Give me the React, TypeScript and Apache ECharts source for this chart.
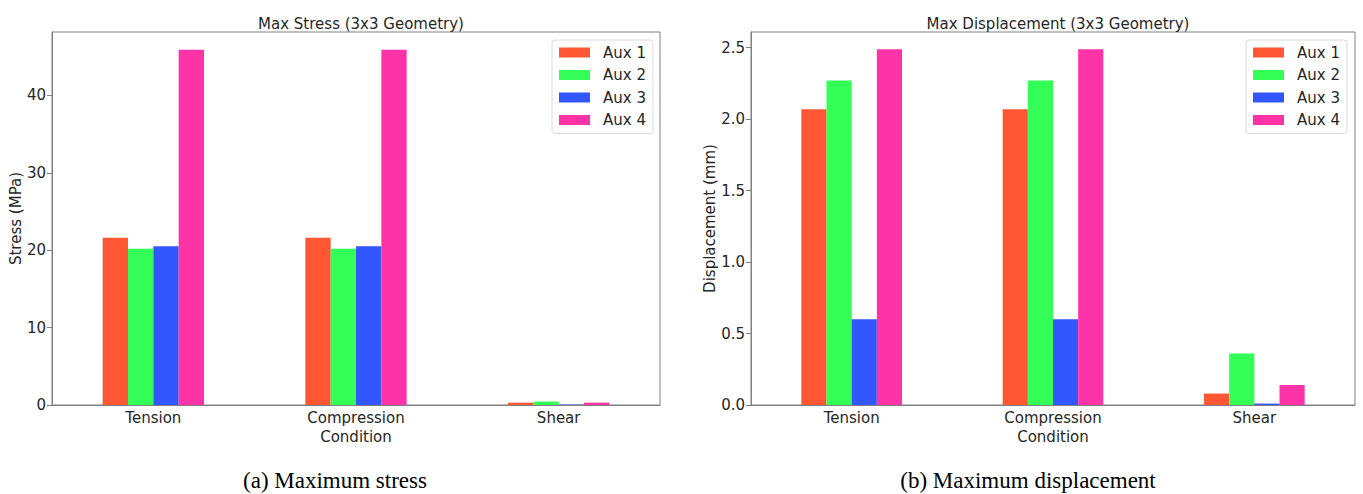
import React, { useEffect, useRef } from "react";
import * as echarts from "echarts";

const categories = ["Tension", "Compression\nCondition", "Shear"];
const seriesNames = ["Aux 1", "Aux 2", "Aux 3", "Aux 4"];
const colors = ["#FF5733", "#33FF57", "#3357FF", "#FF33A8"];
const stressValues = [
  [21.6, 21.6, 0.3],
  [20.2, 20.2, 0.45],
  [20.5, 20.5, 0.05],
  [45.9, 45.9, 0.3],
];
const displacementValues = [
  [2.07, 2.07, 0.08],
  [2.27, 2.27, 0.36],
  [0.6, 0.6, 0.01],
  [2.49, 2.49, 0.14],
];
const titles = ["Max Stress (3x3 Geometry)", "Max Displacement (3x3 Geometry)"];
const yNames = ["Stress (MPa)", "Displacement (mm)"];
const captions = ["(a) Maximum stress", "(b) Maximum displacement"];

const FONT = "DejaVu Sans";
const TXT = "#262626";
const AX = "#808080";

export default function App() {
  const ref = useRef<HTMLDivElement>(null);
  useEffect(() => {
    document.body.style.margin = "0";
    const chart = echarts.init(ref.current!, null, { renderer: "svg" });
    const grids = [
      { left: 52, top: 32, width: 608, height: 373 },
      { left: 751, top: 32, width: 604, height: 373 },
    ];
    const xAxis = grids.map((_, i) => ({
      type: "category",
      gridIndex: i,
      data: categories,
      axisLine: { lineStyle: { color: AX } },
      axisTick: { alignWithLabel: true, length: 5, lineStyle: { color: AX } },
      axisLabel: {
        color: TXT,
        fontFamily: FONT,
        fontSize: 15,
        lineHeight: 19,
        margin: 3,
      },
    }));
    const yAxis = [
      {
        type: "value",
        gridIndex: 0,
        min: 0,
        max: 48.2,
        interval: 10,
        name: yNames[0],
        nameLocation: "middle",
        nameGap: 27,
        nameTextStyle: { color: TXT, fontFamily: FONT, fontSize: 15 },
        axisLine: { show: true, lineStyle: { color: AX } },
        axisTick: { show: true, length: 5, lineStyle: { color: AX } },
        splitLine: { show: false },
        axisLabel: {
          color: TXT,
          fontFamily: FONT,
          fontSize: 15,
          margin: 6,
          showMaxLabel: false,
          formatter: (v: number) => (v % 10 === 0 ? String(v) : ""),
        },
      },
      {
        type: "value",
        gridIndex: 1,
        min: 0,
        max: 2.61,
        interval: 0.5,
        name: yNames[1],
        nameLocation: "middle",
        nameGap: 34,
        nameTextStyle: { color: TXT, fontFamily: FONT, fontSize: 15 },
        axisLine: { show: true, lineStyle: { color: AX } },
        axisTick: { show: true, length: 5, lineStyle: { color: AX } },
        splitLine: { show: false },
        axisLabel: {
          color: TXT,
          fontFamily: FONT,
          fontSize: 15,
          margin: 6,
          showMaxLabel: false,
          formatter: (v: number) =>
            Math.abs((v * 2) % 1) < 1e-9 ? v.toFixed(1) : "",
        },
      },
    ];
    const series: any[] = [];
    [stressValues, displacementValues].forEach((vals, gi) => {
      vals.forEach((row, si) => {
        series.push({
          type: "bar",
          name: seriesNames[si],
          xAxisIndex: gi,
          yAxisIndex: gi,
          data: row,
          barGap: "0%",
          barCategoryGap: "50%",
          itemStyle: { color: colors[si] },
        });
      });
    });
    const legend = [
      { left: 552, top: 40 },
      { left: 1246, top: 40 },
    ].map((p) => ({
      ...p,
      orient: "vertical",
      data: seriesNames,
      itemWidth: 31,
      itemHeight: 10,
      itemGap: 7.5,
      padding: [5, 7, 6, 7],
      backgroundColor: "#fff",
      borderColor: "#d9d9d9",
      borderWidth: 1,
      borderRadius: 3,
      icon: "rect",
      selectedMode: false,
      textStyle: { color: TXT, fontFamily: FONT, fontSize: 15, padding: [0, 0, 0, 8] },
    }));
    chart.setOption({
      animation: false,
      title: titles.map((t, i) => ({
        text: t,
        left: grids[i].left + grids[i].width / 2,
        textAlign: "center",
        top: 11,
        textStyle: { color: TXT, fontFamily: FONT, fontSize: 15, fontWeight: "normal" },
      })),
      grid: grids.map((g) => ({ ...g, show: true, borderColor: AX, borderWidth: 1, backgroundColor: "transparent" })),
      xAxis,
      yAxis,
      legend,
      series,
      graphic: captions.map((c, i) => ({
        type: "text",
        x: i === 0 ? 335 : 1028,
        y: 480,
        style: {
          text: c,
          fill: "#000",
          font: "23px 'Liberation Serif'",
          textAlign: "center",
          textVerticalAlign: "middle",
        },
      })),
    });
    return () => chart.dispose();
  }, []);
  return <div ref={ref} style={{ width: 1363, height: 494 }} />;
}
